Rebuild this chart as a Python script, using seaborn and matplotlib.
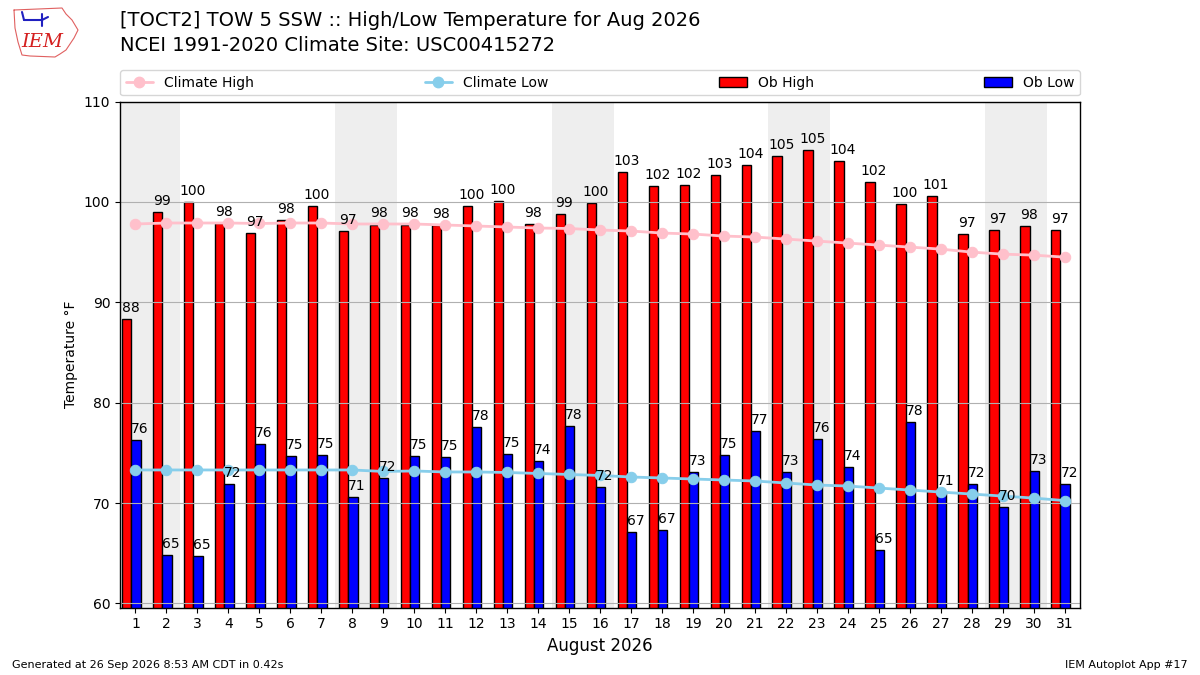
import matplotlib
matplotlib.use('Agg')
import matplotlib.pyplot as plt
from matplotlib.patches import Patch
from matplotlib.lines import Line2D
import seaborn as sns
import pandas as pd

# Datos (agosto 2026)
dias = list(range(1, 32))
ob_high = [88.3, 99.0, 100.0, 97.85, 96.9, 98.2, 99.6, 97.15, 97.75, 97.75,
           97.7, 99.6, 100.1, 97.8, 98.8, 99.9, 103.0, 101.6, 101.7, 102.7,
           103.7, 104.6, 105.2, 104.1, 102.0, 99.8, 100.6, 96.8, 97.2, 97.6, 97.2]
ob_low = [76.3, 64.8, 64.7, 71.9, 75.9, 74.7, 74.8, 70.65, 72.45, 74.7,
          74.6, 77.6, 74.9, 74.2, 77.7, 71.6, 67.1, 67.3, 73.1, 74.8,
          77.2, 73.1, 76.4, 73.6, 65.35, 78.1, 71.1, 71.9, 69.6, 73.2, 71.9]
clim_high = [97.8, 97.9, 97.9, 97.9, 97.85, 97.9, 97.9, 97.8, 97.8, 97.8,
             97.7, 97.6, 97.5, 97.4, 97.35, 97.2, 97.1, 96.9, 96.8, 96.6,
             96.5, 96.3, 96.1, 95.9, 95.7, 95.5, 95.3, 95.0, 94.8, 94.7, 94.5]
clim_low = [73.3, 73.3, 73.3, 73.3, 73.3, 73.3, 73.3, 73.3, 73.15, 73.2,
            73.1, 73.1, 73.05, 72.95, 72.85, 72.75, 72.6, 72.5, 72.4, 72.3,
            72.2, 72.0, 71.8, 71.7, 71.5, 71.3, 71.1, 70.9, 70.7, 70.5, 70.25]

fechas = pd.date_range('2026-08-01', periods=31, freq='D')
fin_de_semana = [d.day for d in fechas if d.weekday() >= 5]

obs = pd.DataFrame({'dia': dias * 2,
                    'temp': ob_high + ob_low,
                    'tipo': ['Ob High'] * 31 + ['Ob Low'] * 31})
clima = pd.DataFrame({'dia': dias, 'alta': clim_high, 'baja': clim_low})

sns.set_style('ticks')
plt.rcParams.update({'axes.axisbelow': 'line', 'font.family': ['DejaVu Sans'],
                     'text.color': 'black', 'axes.labelcolor': 'black',
                     'xtick.color': 'black', 'ytick.color': 'black',
                     'axes.edgecolor': 'black'})

fig = plt.figure(figsize=(12, 6.75), dpi=100)
ax = fig.add_axes([0.1, 0.1, 0.8, 0.7496])

# Sombreado de fines de semana (ligeramente desplazado, como en el original)
for d in fin_de_semana:
    ax.axvspan(d - 0.43, d + 0.57, color='#eeeeee', zorder=0, lw=0)

sns.barplot(data=obs, x='dia', y='temp', hue='tipo', native_scale=True,
            palette=['red', 'blue'], width=0.6, dodge=True, edgecolor='black',
            linewidth=1, saturation=1, legend=False, ax=ax, zorder=1)
for p in ax.patches:
    p.set_x(p.get_x() - 0.13)

sns.lineplot(data=clima, x='dia', y='alta', color='pink', marker='o',
             markersize=7.5, markeredgecolor='pink', lw=2, ax=ax, zorder=3)
sns.lineplot(data=clima, x='dia', y='baja', color='skyblue', marker='o',
             markersize=7.5, markeredgecolor='skyblue', lw=2, ax=ax, zorder=3)

for d, h, l in zip(dias, ob_high, ob_low):
    ax.text(d - 0.15, h + 0.4, f"{h:.0f}", ha='center', va='bottom', fontsize=10, zorder=4)
    ax.text(d + 0.15, l + 0.4, f"{l:.0f}", ha='center', va='bottom', fontsize=10, zorder=4)

ax.set_xlim(0.5, 31.5)
ax.set_ylim(59.6, 110)
ax.set_xticks(dias)
ax.set_xticklabels([str(d) for d in dias], fontsize=10)
ax.set_yticks(range(60, 111, 10))
ax.tick_params(axis='y', labelsize=10)
ax.grid(axis='y', color='#b0b0b0', lw=0.8)
ax.set_xlabel('August 2026', fontsize=12)
ax.set_ylabel('Temperature °F', fontsize=10)
for s in ax.spines.values():
    s.set_visible(True)
    s.set_linewidth(1)

handles = [Line2D([], [], color='pink', marker='o', markersize=7.5, lw=2),
           Line2D([], [], color='skyblue', marker='o', markersize=7.5, lw=2),
           Patch(facecolor='red', edgecolor='black'),
           Patch(facecolor='blue', edgecolor='black')]
ax.legend(handles, ['Climate High', 'Climate Low', 'Ob High', 'Ob Low'],
          loc='lower left', bbox_to_anchor=(0, 1.012, 1, 0.05), mode='expand',
          ncol=4, fontsize=10, borderaxespad=0)

fig.text(0.1, 0.955, '[TOCT2] TOW 5 SSW :: High/Low Temperature for Aug 2026',
         fontsize=14, va='bottom')
fig.text(0.1, 0.918, 'NCEI 1991-2020 Climate Site: USC00415272',
         fontsize=14, va='bottom')

# Logo aproximado: contorno de Iowa, icono azul y texto IEM
contorno = [(14, 10), (62, 8), (66, 14), (72, 20), (78, 30), (74, 38), (70, 44),
            (66, 50), (60, 54), (55, 57), (30, 56), (22, 55), (18, 42), (15, 28), (14, 10)]
fig.add_artist(Line2D([x / 1200 for x, y in contorno], [1 - y / 675 for x, y in contorno],
                      color='#e06060', lw=0.8, transform=fig.transFigure))
icono = [[(24, 20), (42, 20)], [(42, 14), (42, 26)], [(22, 12), (24, 20)], [(42, 20), (48, 17)]]
for seg in icono:
    fig.add_artist(Line2D([x / 1200 for x, y in seg], [1 - y / 675 for x, y in seg],
                          color='#2020c0', lw=1.5, transform=fig.transFigure))
fig.text(0.018, 0.925, 'IEM', color='#d42020', fontsize=14, style='italic',
         family='DejaVu Serif', va='bottom')

fig.text(0.01, 0.01, 'Generated at 26 Sep 2026 8:53 AM CDT in 0.42s', fontsize=8)
fig.text(0.99, 0.01, 'IEM Autoplot App #17', fontsize=8, ha='right')

fig.savefig('out.png', dpi=100)
